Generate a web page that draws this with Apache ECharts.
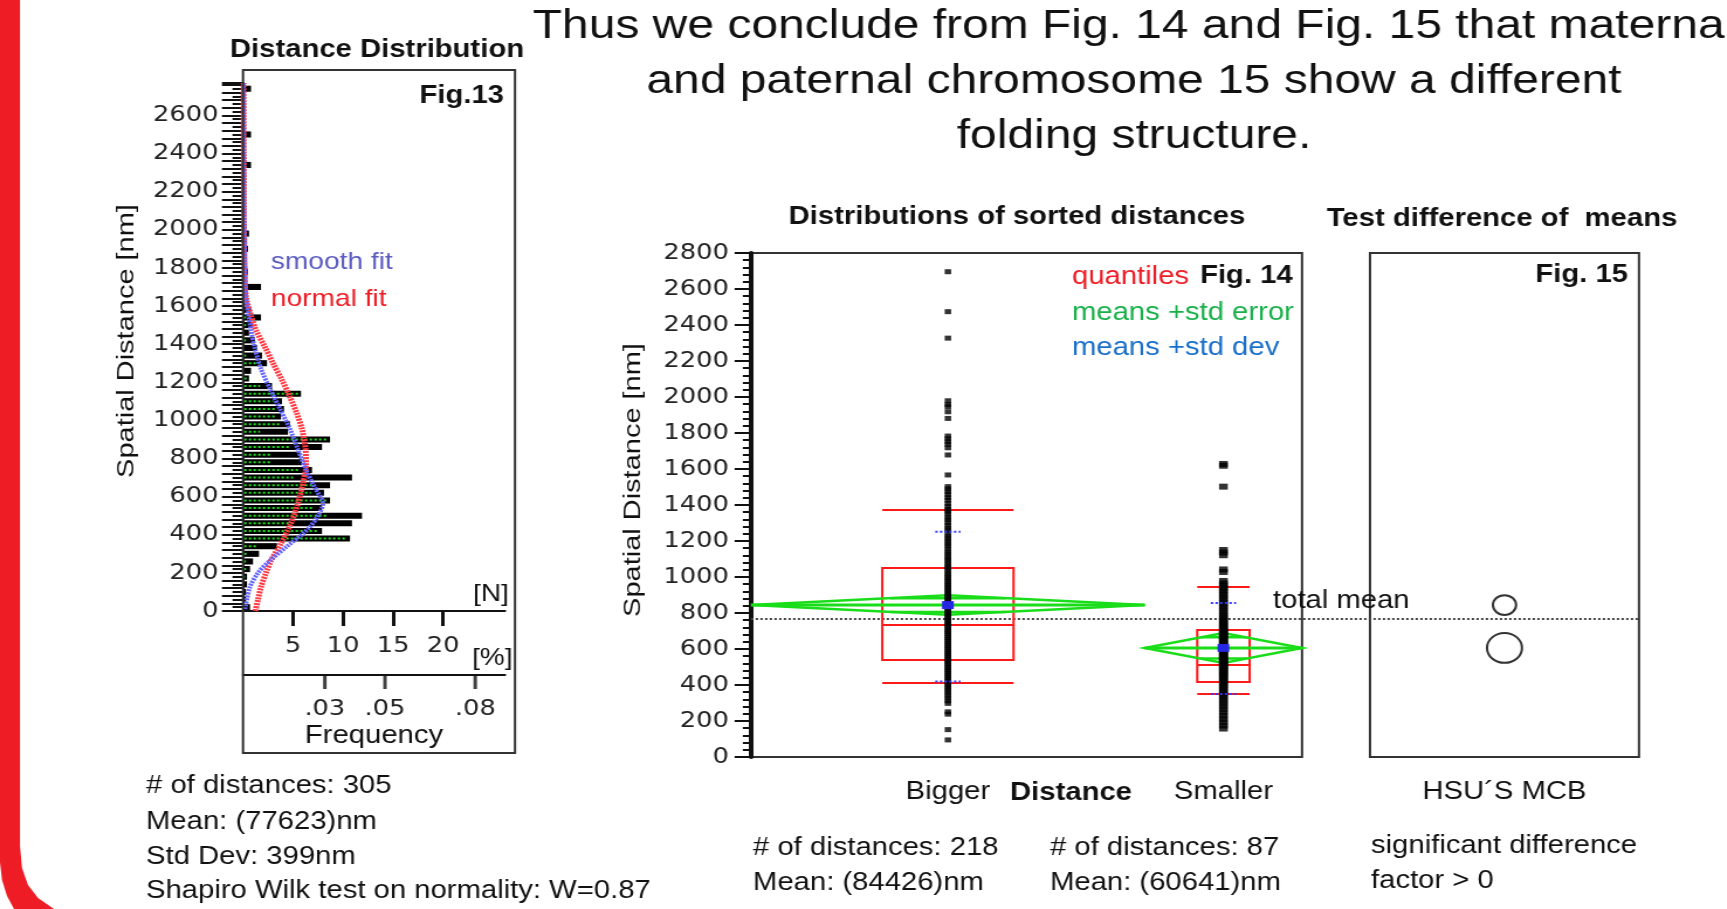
<!DOCTYPE html>
<html>
<head>
<meta charset="utf-8">
<title>Distance distribution</title>
<script src="https://cdn.jsdelivr.net/npm/echarts@6/dist/echarts.min.js"></script>
<style>
html, body { margin: 0; padding: 0; background: #fff; overflow: hidden; }
#main { width: 1476px; height: 909px; transform: scaleX(1.17); transform-origin: 0 0; }
</style>
</head>
<body>
<div id="main"></div>
<script>
// the slide is stretched sideways, so positions are measured in screen px and divided
const SX = 1.17
const X = v => v / SX

// Fig.13 histogram, [%] per 40 nm bin starting at 0
const BIN = 40
const histBlack = [0.7, 0.3, 0.3, 0.4, 0.4, 0.7, 1.0, 1.6, 3.4, 10.7,
  7.9, 10.9, 11.9, 7.9, 8.7, 8.1, 8.7, 10.9, 6.9, 5.9,
  5.7, 7.9, 8.7, 4.5, 4.7, 3.8, 4.1, 3.9, 5.8, 2.9,
  0.6, 0.8, 2.4, 1.9, 1.4, 1.2, 0.6, 1.0, 1.8, 0.8,
  0.5, 0.3, 1.8, 0.3, 0.5, 0, 0, 0.5, 0.4, 0.6,
  0, 0, 0, 0, 0, 0, 0, 0, 0.8, 0,
  0, 0, 0.8, 0, 0, 0, 0, 0, 0.8]
const histGreen = [0, 0, 0, 0, 0.2, 0.3, 0.3, 0.4, 1.5, 10.4,
  7.6, 5.0, 8.5, 6.9, 8.4, 6.8, 7.0, 5.0, 5.6, 2.7,
  2.7, 4.7, 8.4, 1.7, 3.8, 3.3, 3.3, 3.0, 5.5, 1.7,
  0.5, 0, 1.7, 0.3, 0, 0.3, 0, 0.3, 0.3, 0,
  0.3, 0, 0, 0, 0, 0, 0, 0, 0, 0,
  0, 0, 0, 0, 0, 0, 0, 0, 0, 0,
  0, 0, 0, 0, 0, 0, 0, 0, 0]
// [%, nm]
const normalFit = [[1.24, 0], [1.5, 60], [1.8, 126], [2.3, 200], [2.8, 265], [3.8, 355], [4.8, 461],
  [5.5, 566], [6.0, 671], [6.3, 760], [6.25, 850], [5.9, 954], [5.4, 1034], [4.7, 1122], [3.9, 1211],
  [3.0, 1300], [2.2, 1384], [1.3, 1473], [0.8, 1550], [0.3, 1646], [0.15, 1800], [0.1, 2000],
  [0.07, 2400], [0.05, 2770]]
const smoothFit = [[0.2, 10], [0.7, 126], [1.5, 200], [2.7, 265], [4.3, 335], [6.5, 430], [7.5, 500],
  [8.0, 566], [7.3, 636], [6.3, 741], [5.5, 846], [4.7, 954], [3.7, 1060], [2.7, 1165], [1.8, 1270],
  [1.2, 1376], [0.8, 1473], [0.3, 1646], [0.2, 1824], [0.1, 2100], [0.05, 2770]]
const pctTicks = [5, 10, 15, 20]
const freqTicks = [0.03, 0.05, 0.08]

// Fig.14
const groups = ['Bigger', 'Smaller']
const groupN = [218, 87]
const biggerDist = [2696, 2474, 2327, 1979, 1958, 1946, 1918, 1881, 1783, 1768, 1752, 1737, 1718, 1678,
  1567, 1502, 1489, 1474, 1458, 1441, 1427, 1408, 1391, 1376, 1362, 1349, 1331, 1318, 1302, 1287,
  1271, 1259, 1243, 1226, 1214, 1198, 1185, 1171, 1156, 1140, 1128, 1113, 1101, 1089, 1074, 1062,
  1049, 1037, 1022, 1011, 998, 987, 975, 962, 951, 940, 928, 917, 905, 893, 884, 872, 861, 850, 839,
  828, 816, 806, 795, 784, 773, 761, 751, 740, 729, 718, 706, 697, 686, 675, 664, 653, 642, 631, 620,
  609, 598, 587, 576, 565, 554, 543, 532, 521, 510, 498, 487, 476, 464, 453, 441, 430, 418, 405, 393,
  381, 368, 355, 341, 327, 312, 298, 251, 238, 152, 95]
const smallerDist = [1628, 1618, 1502, 1150, 1136, 1121, 1042, 1028, 978, 965, 952, 940, 927, 913, 899,
  884, 870, 856, 842, 828, 812, 797, 783, 770, 758, 747, 736, 726, 716, 707, 699, 690, 682, 674, 666,
  658, 650, 642, 635, 627, 620, 612, 605, 598, 590, 583, 576, 569, 561, 554, 547, 540, 532, 525, 517,
  510, 502, 494, 486, 478, 469, 460, 451, 442, 432, 421, 410, 398, 386, 373, 359, 344, 329, 313, 297,
  281, 264, 247, 229, 211, 193, 175, 158]
// 10%, 25%, median, 75%, 90%
const quantiles = [[411, 539, 733, 1050, 1372], [350, 417, 511, 706, 944]]
// lower 95%, mean, upper 95%
const meanCI = [[790, 844, 898], [522, 606, 689]]
// mean - sd, mean + sd
const stdDev = [[420, 1252], [350, 856]]
const totalMean = 766

// Fig.15
const mcbLabel = ['HSU´S MCB']
const mcbMeans = [844, 606]
const mcbRadius = [55, 83]

const total = groupN[0] + groupN[1]
const gStart = [0, groupN[0]]
const gCenter = groupN.map((n, i) => gStart[i] + n / 2)

const F = '"Liberation Sans", Arial, sans-serif'
const FT = '"DejaVu Sans", sans-serif'
const RED = '#ff1a1a'
const plain = v => String(v)

function txt(s, x, y, o) {
  o = o || {}
  return {
    type: 'text', x: X(x), y: y, rotation: o.rot || 0, scaleX: o.sx || 1, z: 100,
    style: {
      text: s,
      font: (o.bold ? 'bold ' : '') + (o.size || 25) + 'px ' + F,
      fill: o.color || '#111',
      align: o.align || 'left', verticalAlign: 'middle',
      textAlign: o.align || 'left', textVerticalAlign: 'middle'
    }
  }
}

let myChart = echarts.init(document.getElementById('main'))

let option = {
  animation: false,
  grid: [
    {left: X(243), top: 83, width: X(262), height: 528},
    {left: X(751), top: 253, width: X(551), height: 504, show: true, borderColor: '#333', borderWidth: 2},
    {left: X(1370), top: 253, width: X(269), height: 504, show: true, borderColor: '#333', borderWidth: 2},
    {left: X(751), top: 253, width: X(888), height: 504},
    // frequency scale strip under the histogram
    {left: X(243), top: 611, width: X(262), height: 64}
  ],
  xAxis: [
    {
      gridIndex: 0, type: 'value', min: 0, max: 26.2, position: 'bottom',
      axisLine: {onZero: false, lineStyle: {color: '#111', width: 2}},
      axisTick: {customValues: pctTicks, length: 15, lineStyle: {width: 3, color: '#111'}},
      axisLabel: {customValues: pctTicks, fontFamily: FT, fontSize: 22, color: '#222', margin: 24},
      splitLine: {show: false}
    },
    {
      gridIndex: 4, type: 'value', min: 0.0028, max: 0.0899, position: 'bottom',
      axisLine: {onZero: false, lineStyle: {color: '#111', width: 2}},
      axisTick: {show: false},
      axisLabel: {
        customValues: freqTicks, fontFamily: FT, fontSize: 22, color: '#222', margin: 23,
        formatter: v => v.toFixed(2).slice(1)
      },
      splitLine: {show: false},
      name: 'Frequency', nameLocation: 'middle', nameGap: 49,
      nameTextStyle: {fontFamily: F, fontSize: 25, color: '#111'}
    },
    {
      gridIndex: 1, type: 'value', min: 0, max: total,
      axisLine: {show: false}, axisTick: {show: false}, splitLine: {show: false},
      axisLabel: {
        customValues: gCenter, fontFamily: F, fontSize: 25, color: '#111', margin: 23,
        formatter: v => groups[gCenter.indexOf(v)]
      }
    },
    {
      gridIndex: 2, type: 'category', data: mcbLabel,
      axisLine: {show: false}, axisTick: {show: false},
      axisLabel: {fontFamily: F, fontSize: 25, color: '#111', margin: 23}
    },
    {gridIndex: 3, type: 'value', min: 0, max: 1, show: false}
  ],
  yAxis: [
    {
      gridIndex: 0, type: 'value', min: 0, max: 2770, interval: 200, position: 'left',
      axisLine: {onZero: false, lineStyle: {color: '#111', width: 2}},
      axisTick: {length: 18, lineStyle: {width: 2, color: '#111'}},
      minorTick: {show: true, splitNumber: 10, length: 9, lineStyle: {width: 2, color: '#111'}},
      axisLabel: {fontFamily: FT, fontSize: 22, color: '#222', margin: 21, showMaxLabel: false, formatter: plain},
      splitLine: {show: false}
    },
    {
      gridIndex: 0, type: 'value', min: 0, max: 2770, interval: 40, position: 'left', offset: 0,
      axisLine: {show: false, onZero: false},
      axisTick: {length: 18, lineStyle: {width: 2, color: '#111'}},
      axisLabel: {show: false}, splitLine: {show: false}
    },
    {
      gridIndex: 1, type: 'value', min: 0, max: 2800, interval: 200, position: 'left',
      axisLine: {onZero: false, lineStyle: {color: '#111', width: 4}},
      axisTick: {length: 14, lineStyle: {width: 2, color: '#111'}},
      minorTick: {show: true, splitNumber: 5, length: 7, lineStyle: {width: 2, color: '#111'}},
      axisLabel: {fontFamily: FT, fontSize: 22, color: '#222', margin: 19, formatter: plain},
      splitLine: {show: false}
    },
    {gridIndex: 2, type: 'value', min: 0, max: 2800, show: false},
    {gridIndex: 3, type: 'value', min: 0, max: 2800, show: false},
    {gridIndex: 4, type: 'value', min: 0, max: 1, show: false}
  ],
  graphic: [
    // red slide edge
    {
      type: 'polygon', z: 100,
      shape: {points: [[0, 0], [X(20), 0], [X(20), 846], [X(22), 868], [X(28), 885], [X(38), 898],
        [X(54), 909], [X(14), 909], [X(7), 896], [X(2), 880], [0, 862]]},
      style: {fill: '#ee1c25'}
    },
    {type: 'rect', z: 90, shape: {x: X(243), y: 70, width: X(272), height: 683},
      style: {fill: null, stroke: '#333', lineWidth: 2}},
    txt('Thus we conclude from Fig. 14 and Fig. 15 that maternal', 1134, 27, {size: 41, align: 'center'}),
    txt('and paternal chromosome 15 show a different', 1134, 82, {size: 41, align: 'center'}),
    txt('folding structure.', 1134, 137, {size: 41, align: 'center'}),

    txt('Distance Distribution', 377, 50, {bold: true, align: 'center'}),
    txt('Fig.13', 504, 96, {bold: true, align: 'right'}),
    txt('smooth fit', 271, 262, {color: '#5b5bc0', size: 24}),
    txt('normal fit', 271, 299, {color: '#ee1c25', size: 24}),
    txt('[N]', 473, 594, {size: 24}),
    txt('[%]', 472, 658, {size: 24}),
    txt('Spatial Distance [nm]', 127, 341, {rot: Math.PI / 2, sx: 1.38, size: 21, align: 'center'}),
    txt('# of distances: 305', 146, 786),
    txt('Mean: (77623)nm', 146, 822),
    txt('Std Dev: 399nm', 146, 857),
    txt('Shapiro Wilk test on normality: W=0.87', 146, 891),

    txt('Distributions of sorted distances', 1017, 217, {bold: true, align: 'center'}),
    txt('quantiles', 1072, 277, {color: '#ee1c25'}),
    txt('Fig. 14', 1200, 276, {bold: true}),
    txt('means +std error', 1072, 313, {color: '#19b04a'}),
    txt('means +std dev', 1072, 348, {color: '#1a6fc8'}),
    txt('Spatial Distance [nm]', 633, 480, {rot: Math.PI / 2, sx: 1.38, size: 21, align: 'center'}),
    txt('Distance', 1071, 793, {bold: true, align: 'center'}),
    txt('total mean', 1273, 601),
    txt('# of distances: 218', 753, 848),
    txt('Mean: (84426)nm', 753, 883),
    txt('# of distances: 87', 1050, 848),
    txt('Mean: (60641)nm', 1050, 883),

    txt('Test difference of  means', 1502, 219, {bold: true, align: 'center'}),
    txt('Fig. 15', 1628, 275, {bold: true, align: 'right'}),
    txt('significant difference', 1371, 846),
    txt('factor > 0', 1371, 881)
  ],
  series: [
    {
      type: 'custom', xAxisIndex: 0, yAxisIndex: 0,
      data: histBlack.map((v, i) => [i * BIN, v, histGreen[i]]),
      renderItem: (params, api) => {
        const lo = api.value(0), blk = api.value(1), grn = api.value(2)
        const mid = lo + BIN / 2
        const a = api.coord([0, mid])
        const h = api.size([0, BIN])[1]
        const kids = []
        if (blk > 0) {
          const b = api.coord([blk, mid])
          kids.push({type: 'rect', shape: {x: a[0], y: a[1] - h * 0.4, width: b[0] - a[0], height: h * 0.8},
            style: {fill: '#000'}})
        }
        if (grn > 0) {
          const g = api.coord([grn, mid])
          kids.push({type: 'line', shape: {x1: a[0] + 1, y1: a[1], x2: g[0], y2: a[1]},
            style: {stroke: '#22dd22', lineWidth: 2, lineDash: [2, 2]}})
        }
        return {type: 'group', children: kids}
      }
    },
    {
      // frequency ticks hanging below the strip
      type: 'scatter', xAxisIndex: 1, yAxisIndex: 5, clip: false, silent: true, z: 20,
      data: freqTicks.map(v => [v, 0]),
      symbol: 'rect', symbolSize: [3, 14], symbolOffset: [0, 7],
      itemStyle: {color: '#111'}
    },
    {
      name: 'normal fit', type: 'line', xAxisIndex: 0, yAxisIndex: 0, data: normalFit,
      smooth: 0.3, symbol: 'none', z: 5,
      lineStyle: {color: '#ff3a44', width: 5, type: [2, 1]}
    },
    {
      name: 'smooth fit', type: 'line', xAxisIndex: 0, yAxisIndex: 0, data: smoothFit,
      smooth: 0.3, symbol: 'none', z: 6,
      lineStyle: {color: '#6464ff', width: 4, type: [2, 1]}
    },
    {
      // quantile boxes
      type: 'custom', xAxisIndex: 2, yAxisIndex: 2, z: 2,
      data: quantiles,
      renderItem: (params, api) => {
        const i = params.dataIndex
        const hw = groupN[i] / 6
        const xl = api.coord([gCenter[i] - hw, 0])[0]
        const xr = api.coord([gCenter[i] + hw, 0])[0]
        const y = k => api.coord([0, api.value(k)])[1]
        const st = {stroke: RED, lineWidth: 2, fill: 'none'}
        const hl = k => ({type: 'line', shape: {x1: xl, y1: y(k), x2: xr, y2: y(k)}, style: st})
        return {type: 'group', children: [
          {type: 'rect', shape: {x: xl, y: y(3), width: xr - xl, height: y(1) - y(3)}, style: st},
          hl(0), hl(2), hl(4)
        ]}
      }
    },
    {
      // means diamonds
      type: 'custom', xAxisIndex: 2, yAxisIndex: 2, z: 3,
      data: meanCI,
      renderItem: (params, api) => {
        const i = params.dataIndex
        const lo = api.value(0), m = api.value(1), hi = api.value(2)
        const c = gCenter[i], s = gStart[i], e = gStart[i] + groupN[i]
        const P = (x, v) => api.coord([x, v])
        const st = {stroke: '#18dd18', lineWidth: 2.5, fill: 'none'}
        const ov = (hi - m) / Math.SQRT2
        const w = groupN[i] / 2 * (1 - 1 / Math.SQRT2)
        const seg = v => ({type: 'line', shape: {x1: P(c - w, v)[0], y1: P(c, v)[1], x2: P(c + w, v)[0], y2: P(c, v)[1]}, style: st})
        return {type: 'group', children: [
          {type: 'polygon', shape: {points: [P(s, m), P(c, hi), P(e, m), P(c, lo)]}, style: st},
          {type: 'line', shape: {x1: P(s, m)[0], y1: P(s, m)[1], x2: P(e, m)[0], y2: P(e, m)[1]}, style: {stroke: '#18dd18', lineWidth: 3}},
          seg(m + ov), seg(m - ov)
        ]}
      }
    },
    {
      name: groups[0], type: 'scatter', xAxisIndex: 2, yAxisIndex: 2, z: 4,
      data: biggerDist.map(v => [gCenter[0], v]),
      symbol: 'rect', symbolSize: [5.5, 5], itemStyle: {color: '#000'}
    },
    {
      name: groups[1], type: 'scatter', xAxisIndex: 2, yAxisIndex: 2, z: 4,
      data: smallerDist.map(v => [gCenter[1], v]),
      symbol: 'rect', symbolSize: [7.5, 6], itemStyle: {color: '#000'}
    },
    {
      // std dev marks and means
      type: 'custom', xAxisIndex: 2, yAxisIndex: 2, z: 7,
      data: stdDev,
      renderItem: (params, api) => {
        const i = params.dataIndex
        const c = gCenter[i]
        const P = (x, v) => api.coord([x, v])
        const st = {stroke: '#3038ff', lineWidth: 2, lineDash: [2, 2]}
        const hl = v => ({type: 'line', shape: {x1: P(c - 7, v)[0], y1: P(c, v)[1], x2: P(c + 7, v)[0], y2: P(c, v)[1]}, style: st})
        const pm = P(c, meanCI[i][1])
        return {type: 'group', children: [
          hl(api.value(0)), hl(api.value(1)),
          {type: 'rect', shape: {x: pm[0] - 5, y: pm[1] - 4, width: 10, height: 8}, style: {fill: '#2626e6'}}
        ]}
      }
    },
    {
      // Hsu MCB comparison circles
      type: 'custom', xAxisIndex: 3, yAxisIndex: 3,
      data: mcbMeans.map((m, i) => [0, m, mcbRadius[i]]),
      renderItem: (params, api) => {
        const p = api.coord([api.value(0), api.value(1)])
        const r = api.size([0, api.value(2)])[1]
        return {type: 'circle', shape: {cx: p[0], cy: p[1], r: r}, style: {fill: 'none', stroke: '#333', lineWidth: 2}}
      }
    },
    {
      name: 'total mean', type: 'line', xAxisIndex: 4, yAxisIndex: 4,
      data: [[0, totalMean], [1, totalMean]], symbol: 'none', z: 1,
      lineStyle: {color: '#444', width: 2, type: 'dotted'}
    }
  ]
}

myChart.setOption(option)
</script>
</body>
</html>
